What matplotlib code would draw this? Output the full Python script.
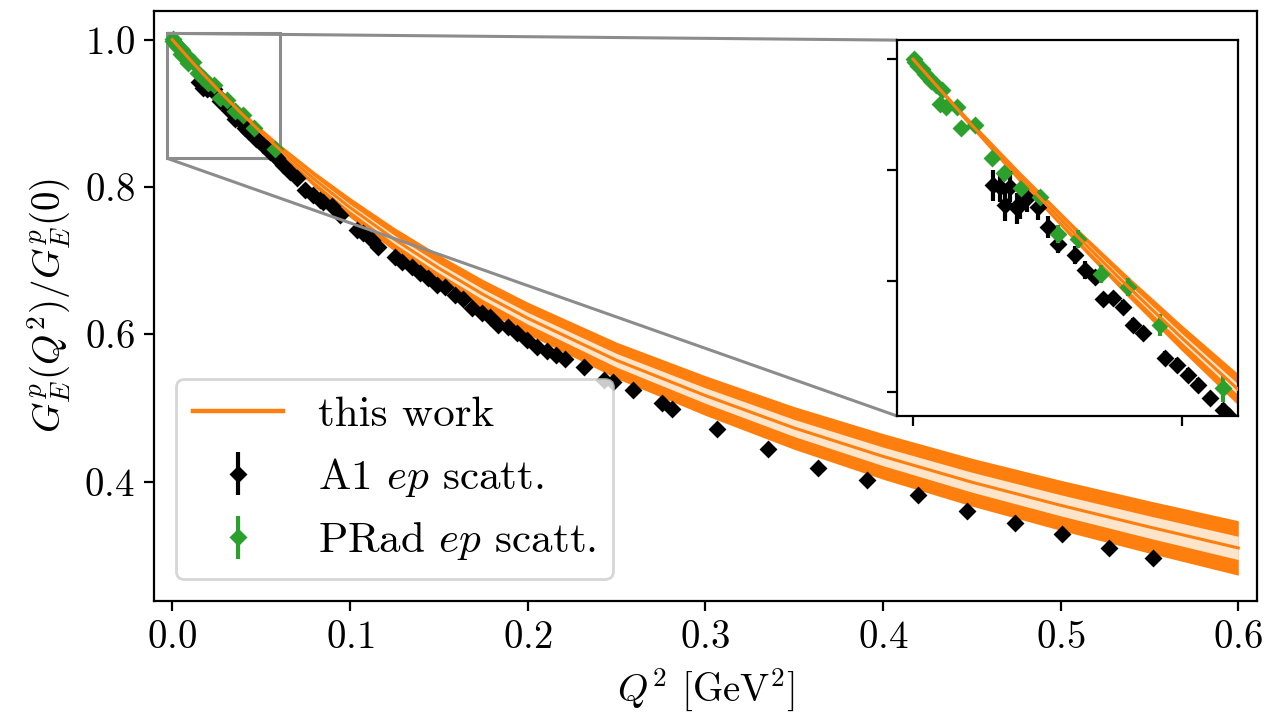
import numpy as np
import matplotlib
matplotlib.use("Agg")
import matplotlib.pyplot as plt
from mpl_toolkits.axes_grid1.inset_locator import mark_inset

plt.rcParams['font.family'] = 'serif'
plt.rcParams['font.serif'] = ['cmr10']
plt.rcParams['mathtext.fontset'] = 'cm'
plt.rcParams['axes.formatter.use_mathtext'] = True
plt.rcParams['axes.unicode_minus'] = False
plt.rcParams['font.size'] = 14

# band of "this work"
q2_band = [0.0, 0.01, 0.02, 0.03, 0.04, 0.05, 0.06, 0.08, 0.10, 0.125, 0.15,
           0.175, 0.20, 0.25, 0.30, 0.35, 0.40, 0.45, 0.50, 0.55, 0.60]
ge_mid = [1.000, 0.9727, 0.9465, 0.9214, 0.8973, 0.8742, 0.8520, 0.8103, 0.7722, 0.7289, 0.6899,
          0.6541, 0.6219, 0.5648, 0.5169, 0.4729, 0.4343, 0.3993, 0.3679, 0.3384, 0.3100]
half_outer = [0.0008, 0.0015, 0.0025, 0.0035, 0.0047, 0.0058, 0.0070, 0.0105, 0.0135, 0.016, 0.0182,
              0.0201, 0.0218, 0.0246, 0.0269, 0.029, 0.031, 0.0325, 0.034, 0.0355, 0.037]
half_inner = [0.0003, 0.0005, 0.0008, 0.0012, 0.0016, 0.002, 0.0024, 0.0035, 0.0046, 0.0056, 0.0065,
              0.0073, 0.008, 0.0093, 0.0105, 0.0116, 0.0126, 0.0135, 0.0143, 0.0151, 0.0158]

# A1 ep scattering
a1_q2 = [0.01494, 0.01617, 0.0171, 0.01803, 0.01927, 0.01989, 0.02113, 0.02329, 0.02515,
         0.02701, 0.03011, 0.03197, 0.03383, 0.03538, 0.03724, 0.0391, 0.04096, 0.04281,
         0.04684, 0.04901, 0.05117, 0.05303, 0.0552, 0.05768, 0.0588, 0.0625, 0.0662,
         0.0700, 0.0747, 0.0794, 0.0831, 0.0850, 0.0897, 0.0944, 0.1038, 0.1075, 0.1122,
         0.1160, 0.1253, 0.1291, 0.1347, 0.1394, 0.1441, 0.1488, 0.1535, 0.1591, 0.1638,
         0.1685, 0.1741, 0.1788, 0.1835, 0.1891, 0.1938, 0.1995, 0.2051, 0.2107, 0.2160,
         0.2210, 0.2317, 0.2430, 0.2482, 0.2591, 0.2755, 0.2811, 0.3064, 0.3355, 0.3636,
         0.3912, 0.4199, 0.4471, 0.4743, 0.5009, 0.5272, 0.5522]
a1_ge = [0.9432, 0.9424, 0.9342, 0.9424, 0.9327, 0.9349, 0.9372, 0.9334, 0.9244,
         0.9164, 0.9116, 0.9049, 0.9018, 0.8917, 0.8921, 0.8883, 0.8801, 0.8763,
         0.8653, 0.8620, 0.8575, 0.8530, 0.8470, 0.8417, 0.839, 0.830, 0.821,
         0.812, 0.796, 0.789, 0.783, 0.780, 0.774, 0.762, 0.742, 0.737, 0.728,
         0.719, 0.7056, 0.6988, 0.6911, 0.6839, 0.6762, 0.6671, 0.6640, 0.6535, 0.6477,
         0.6355, 0.6295, 0.6241, 0.6128, 0.6105, 0.6015, 0.5924, 0.5825, 0.5774, 0.5720,
         0.5666, 0.5561, 0.5380, 0.5357, 0.5245, 0.5064, 0.4983, 0.4719, 0.4439, 0.4181,
         0.4022, 0.3818, 0.3601, 0.3442, 0.3288, 0.3094, 0.2966]
a1_err = [0.007, 0.007, 0.007, 0.007, 0.007, 0.007, 0.006, 0.006, 0.005,
          0.004, 0.004, 0.004, 0.003, 0.003, 0.003, 0.003, 0.003, 0.003,
          0.003, 0.003, 0.003, 0.003, 0.003, 0.003] + [0.003] * 50

# PRad ep scattering
prad_q2 = [0.0002, 0.0003, 0.0009, 0.0016, 0.0022, 0.0028, 0.0034, 0.0043, 0.0053, 0.0050,
           0.0062, 0.0081, 0.0090, 0.0115, 0.0146, 0.0170, 0.0201, 0.0236, 0.0270, 0.0307,
           0.0350, 0.0400, 0.0459, 0.0576]
prad_ge = [1.0003, 0.9988, 0.9970, 0.9954, 0.9935, 0.9919, 0.9902, 0.9883, 0.9860, 0.9800,
           0.9785, 0.9785, 0.9688, 0.9702, 0.9552, 0.9485, 0.9417, 0.9379, 0.9210, 0.9188,
           0.9029, 0.8973, 0.8801, 0.8515]
prad_err = [0.001, 0.001, 0.001, 0.001, 0.001, 0.001, 0.001, 0.0015, 0.0015, 0.002,
            0.002, 0.002, 0.003, 0.003, 0.003, 0.003, 0.003, 0.003, 0.004, 0.004,
            0.004, 0.004, 0.005, 0.006]

orange = '#ff7f0e'
light = '#fee4c9'


def draw(ax):
    q = np.array(q2_band)
    mid = np.array(ge_mid)
    ho = np.array(half_outer)
    hi = np.array(half_inner)
    ax.fill_between(q, mid - ho, mid + ho, color=orange, lw=0, zorder=1)
    ax.fill_between(q, mid - hi, mid + hi, color=light, lw=0, zorder=1.1)
    ax.errorbar(a1_q2, a1_ge, yerr=a1_err, fmt='D', color='black', ms=3.6,
                elinewidth=1.5, capsize=0, zorder=2, label=r'A1 $ep$ scatt.')
    ax.errorbar(prad_q2, prad_ge, yerr=prad_err, fmt='D', color='#2ca02c', ms=3.6,
                elinewidth=1.5, capsize=0, zorder=2.1, label=r'PRad $ep$ scatt.')
    ax.plot(q, mid, color=orange, lw=1.1, zorder=3, label='this work')


fig = plt.figure(figsize=(6.345, 3.61), dpi=200)
ax = fig.add_axes([0.1214, 0.1676, 0.8691, 0.8172])
draw(ax)
ax.set_xlim(-0.0103, 0.6105)
ax.set_ylim(0.238, 1.039)
ax.set_xticks([0.0, 0.1, 0.2, 0.3, 0.4, 0.5, 0.6])
ax.set_yticks([0.4, 0.6, 0.8, 1.0])
ax.set_xlabel(r'$Q^2$ [GeV$^2$]')
ax.set_ylabel(r'$G_E^p(Q^2)/G_E^p(0)$')

handles, labels = ax.get_legend_handles_labels()
order = [labels.index('this work'), labels.index(r'A1 $ep$ scatt.'),
         labels.index(r'PRad $ep$ scatt.')]
leg = ax.legend([handles[i] for i in order], [labels[i] for i in order],
                loc='lower left', handlelength=2.1, fontsize=15.5)
leg.get_lines()[0].set_linewidth(1.6)

axins = ax.inset_axes([0.6736, 0.3136, 0.309, 0.637])
draw(axins)
axins.set_xlim(-0.003, 0.0604)
axins.set_ylim(0.839, 1.0086)
axins.set_xticks([0.0, 0.05])
axins.set_yticks([0.85, 0.9, 0.95, 1.0])
axins.set_xticklabels([])
axins.set_yticklabels([])
mark_inset(ax, axins, loc1=2, loc2=3, fc='none', ec='0.55', lw=1.1)

fig.savefig('out.png', dpi=200)
